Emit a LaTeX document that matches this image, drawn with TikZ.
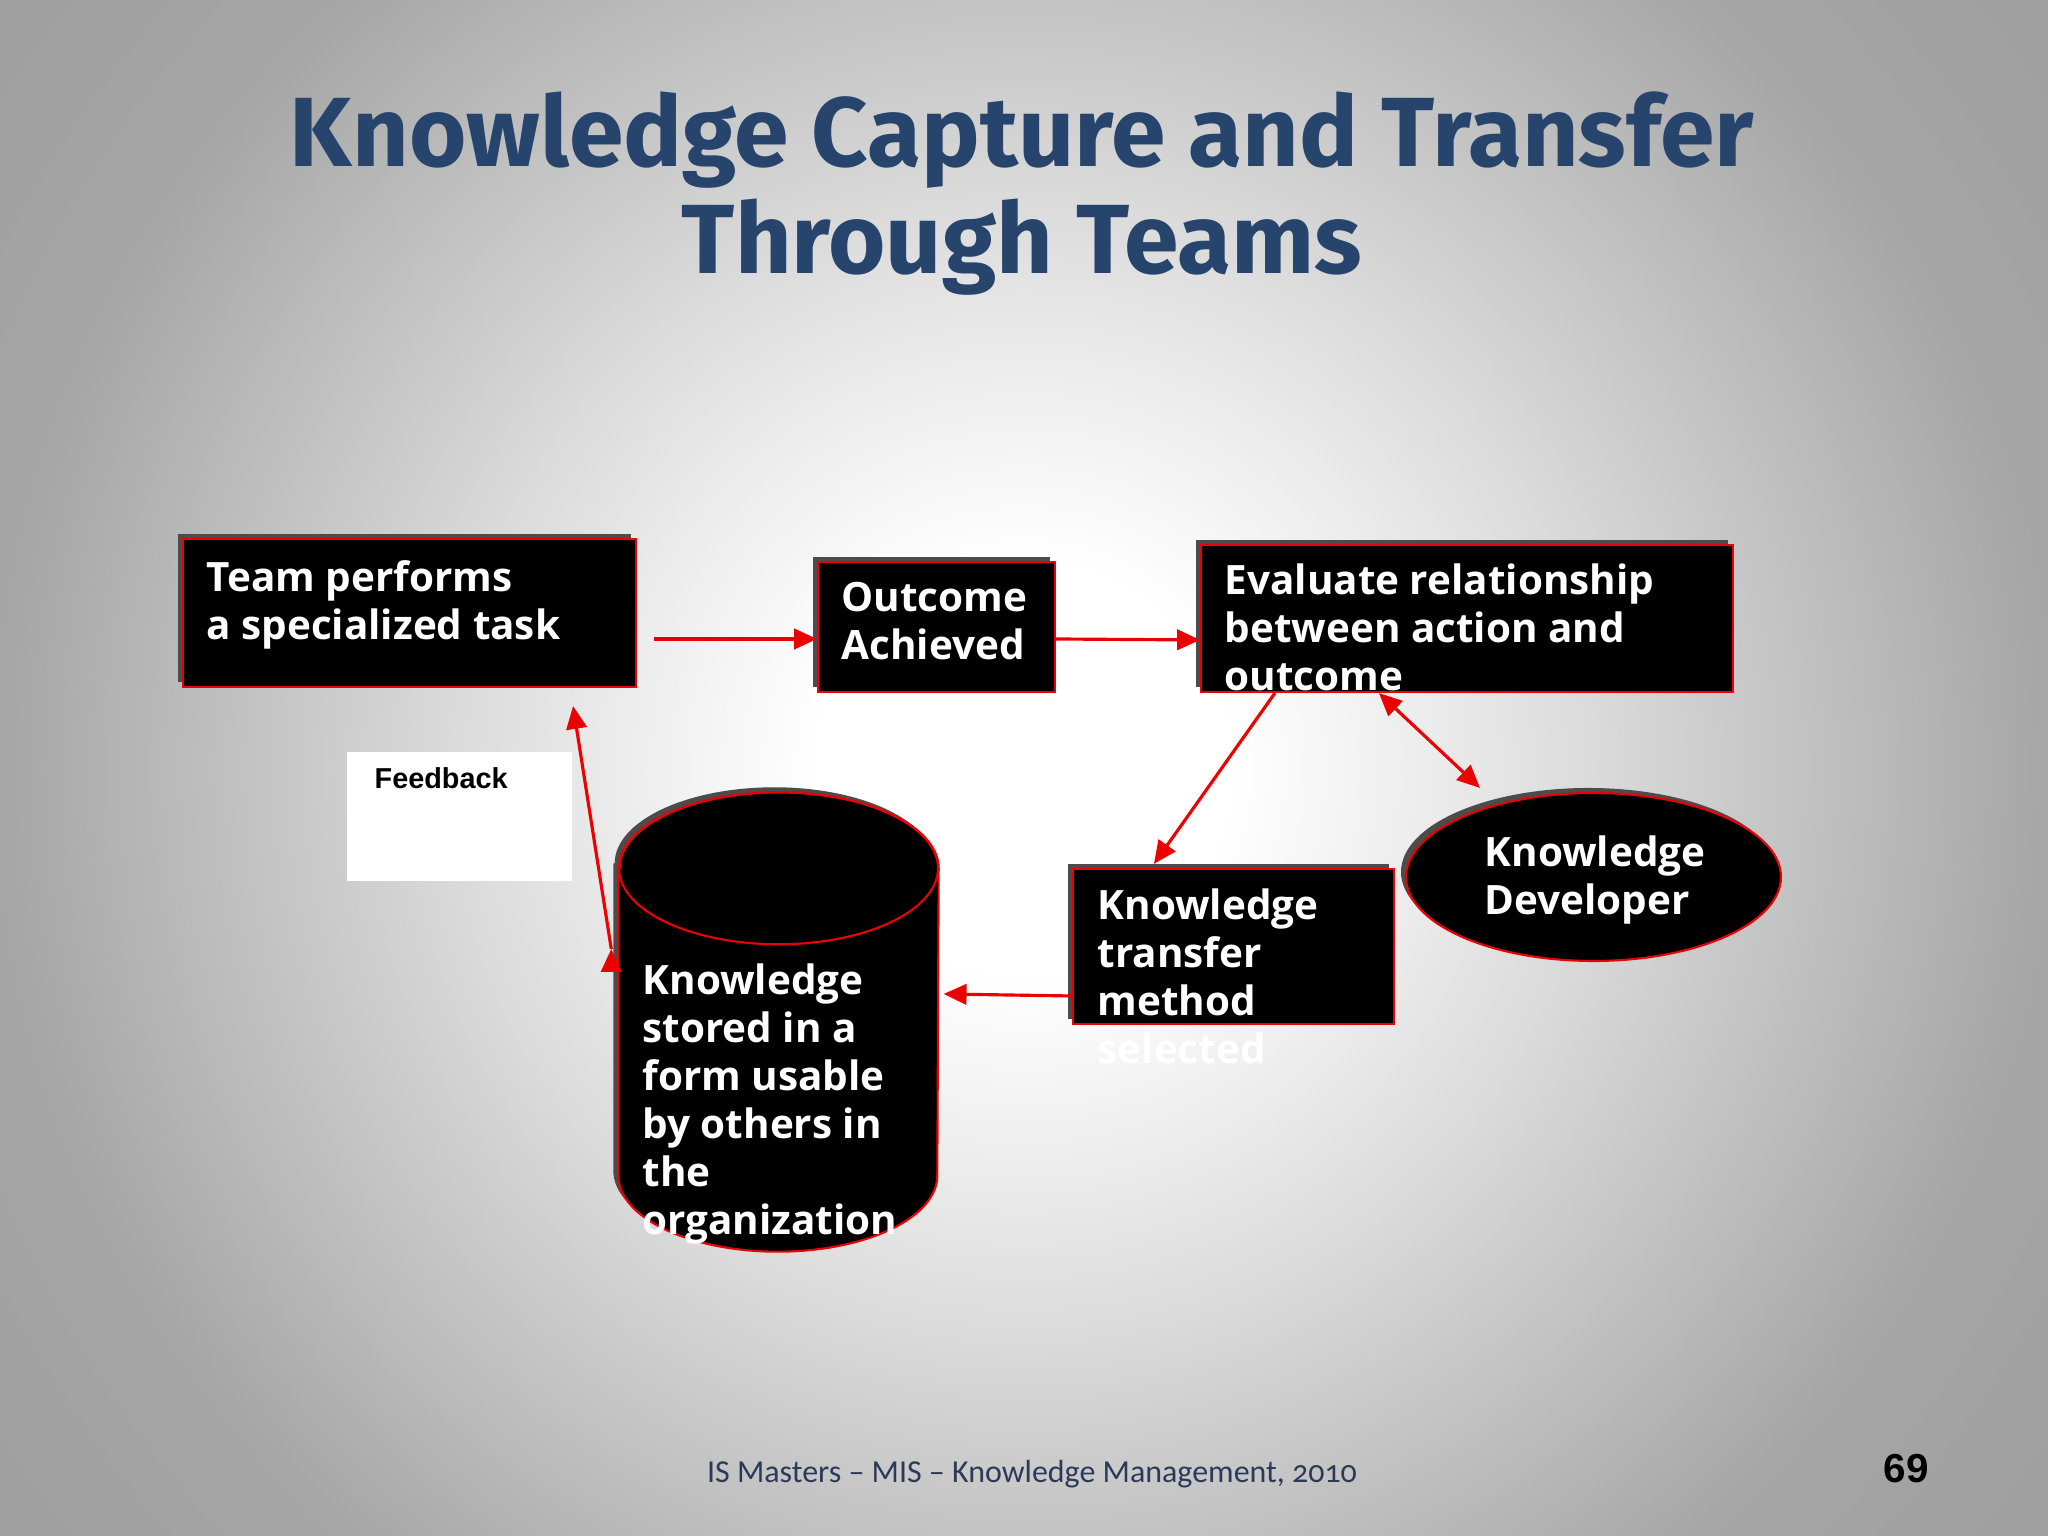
\documentclass[tikz,border=0pt]{standalone}
\usepackage{fontspec}
\setmainfont{Open Sans}
\newfontfamily\titlefont{Fira Sans}
\newfontfamily\footfont{Carlito}[Numbers=OldStyle]
\newfontfamily\arialfont{Liberation Sans}
\usetikzlibrary{arrows.meta,shapes.geometric,shadows}

\definecolor{titleblue}{RGB}{38,68,108}
\definecolor{footblue}{RGB}{44,58,90}
\definecolor{linered}{RGB}{235,0,0}

\pgfdeclareradialshading{slidebg}{\pgfpoint{0bp}{0bp}}{color(0bp)=(white); color(5bp)=(white);
	color(10.2bp)=(black!8); color(13.7bp)=(black!14); color(25bp)=(black!35); color(32bp)=(black!38); color(50bp)=(black!38)}

\tikzset{
	>={Triangle[length=6.5pt,width=5.8pt]},
	shadowed/.style={drop shadow={shadow xshift=-0.05cm, shadow yshift=0.05cm, fill=gray!60!black, opacity=1}},
	blackbox/.style={draw=linered, line width=0.6pt, fill=black, inner sep=0pt, shadowed},
	boxtext/.style={anchor=base west, inner sep=0pt, align=left, text=white,
		font=\fontsize{11.5}{13.66}\selectfont\bfseries},
	link/.style={draw, color=linered, line width=0.9pt, ->}
}

\begin{document}
\begin{tikzpicture}
			\useasboundingbox (0,0) rectangle (20.48,15.36);
			\begin{scope}
				\clip (0,0) rectangle (20.48,15.36);
				\shade[shading=slidebg] (0,-2.56) rectangle (20.48,17.92);
			\end{scope}
			%
			\node[anchor=base, align=center, text=titleblue,
				font=\titlefont\bfseries\fontsize{28}{30.7}\selectfont] (title) at (10.22,12.62) {
					Knowledge Capture and Transfer\\Through Teams};
			%
			\node[blackbox, minimum width=4.53cm, minimum height=1.48cm] (task) at (4.095,9.23) {};
			\node[blackbox, minimum width=2.37cm, minimum height=1.30cm] (outcome) at (9.365,9.09) {};
			\node[blackbox, minimum width=5.32cm, minimum height=1.47cm] (evaluate) at (14.67,9.175) {};
			\node[blackbox, minimum width=3.21cm, minimum height=1.55cm] (transfer) at (12.335,5.895) {};
			\node[blackbox, ellipse, minimum width=3.75cm, minimum height=1.68cm] (developer) at (15.935,6.59) {};
			\node[fill=white, inner sep=0pt, minimum width=2.25cm, minimum height=1.29cm] (feedback) at (4.595,7.195) {};
			\node[inner sep=0pt, minimum width=3.19cm, minimum height=4.58cm] (store) at (7.785,5.14) {};
			%
			\filldraw[draw=linered, fill=black, line width=0.6pt, shadowed]
				([yshift=-0.76cm]store.north west) -- ([yshift=0.76cm]store.south west)
				arc[start angle=180, end angle=360, x radius=1.595cm, y radius=0.76cm]
				-- ([yshift=-0.76cm]store.north east)
				arc[start angle=0, end angle=180, x radius=1.595cm, y radius=0.76cm] -- cycle;
			\draw[linered, line width=0.6pt] ([yshift=-0.76cm]store.north) ellipse[x radius=1.595cm, y radius=0.76cm];
			%
			\node[boxtext] (task-txt) at (2.06,8.96) {Team performs\\a specialized task};
			\node[boxtext] (outcome-txt) at (8.41,8.76) {Outcome\\Achieved};
			\node[boxtext] (evaluate-txt) at (12.24,8.45) {Evaluate relationship\\between action and\\outcome};
			\node[boxtext] (transfer-txt) at (10.97,4.72) {Knowledge\\transfer\\method\\selected};
			\node[boxtext] (developer-txt) at (14.84,6.21) {Knowledge\\Developer};
			\node[boxtext] (store-txt) at (6.42,3.01) {Knowledge\\stored in a\\form usable\\by others in\\the\\organization};
			\node[anchor=base west, inner sep=0pt,
				font=\arialfont\bfseries\fontsize{8.2}{10}\selectfont] (feedback-txt) at (3.74,7.47) {Feedback};
			%
			\path[link]
				([xshift=0.17cm,yshift=-0.26cm]task.east) edge ([yshift=-0.12cm]outcome.west)
				([yshift=-0.12cm]outcome.east) edge ([yshift=-0.215cm]evaluate.west)
				([xshift=0.75cm]evaluate.south west) edge ([xshift=0.82cm,yshift=0.04cm]transfer.north west)
				([xshift=1.79cm]evaluate.south west) edge[<->] ([xshift=-1.135cm,yshift=0.04cm]developer.north)
				([yshift=-0.495cm]transfer.west) edge ([xshift=0.05cm,yshift=0.28cm]store.east)
				([xshift=-0.07cm,yshift=0.73cm]store.west) edge ([xshift=-0.64cm,yshift=-0.18cm]task.south east);
			%
			\node[anchor=base, text=footblue, font=\footfont\fontsize{9.1}{11}\selectfont] (footer) at (10.32,0.53) {
					IS Masters \textendash{} MIS \textendash{} Knowledge Management, 2010};
			\node[anchor=base, font=\arialfont\bfseries\fontsize{11.5}{13}\selectfont] (page) at (19.06,0.53) {69};
		\end{tikzpicture}
\end{document}
